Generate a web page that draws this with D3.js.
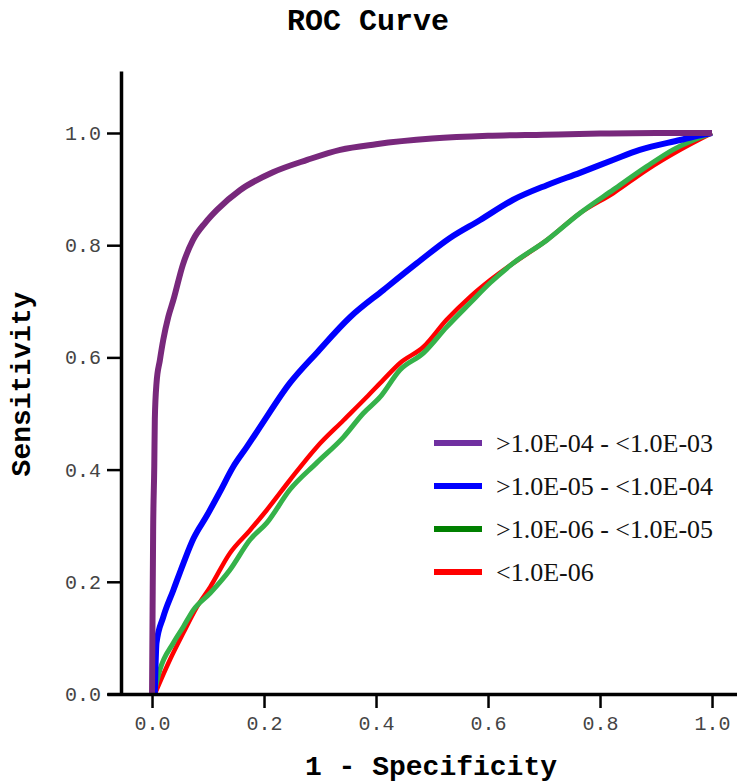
<!DOCTYPE html>
<html>
<head>
<meta charset="utf-8">
<script src="https://cdn.jsdelivr.net/npm/d3@7"></script>
<style>
  body { margin: 0; background: #fff; }
</style>
</head>
<body>
<div id="chart"></div>
<script>
// ROC curves, [1 - specificity, sensitivity]
var rocPurple = [[0,0],[0.001,0.15],[0.002,0.29],[0.004,0.405],[0.005,0.49],[0.008,0.554],
    [0.014,0.595],[0.02,0.631],[0.029,0.672],[0.038,0.702],[0.055,0.765],[0.073,0.809],
    [0.095,0.84],[0.116,0.863],[0.157,0.898],[0.216,0.93],[0.277,0.952],[0.336,0.97],
    [0.4,0.98],[0.5,0.99],[0.6,0.995],[0.7,0.997],[0.8,0.999],[0.9,1.0],[1.0,1.0]];
var rocBlue = [[0.005,0],[0.008,0.091],[0.02,0.137],[0.038,0.185],[0.056,0.233],[0.074,0.277],
    [0.098,0.318],[0.121,0.36],[0.145,0.405],[0.169,0.44],[0.193,0.476],[0.246,0.554],
    [0.294,0.608],[0.354,0.672],[0.413,0.72],[0.473,0.768],[0.532,0.813],[0.586,0.845],
    [0.645,0.881],[0.705,0.907],[0.764,0.929],[0.823,0.952],[0.871,0.97],[0.943,0.9875],
    [0.979,0.996],[1.0,1.0]];
var rocGreen = [[0.005,0.007],[0.014,0.043],[0.038,0.091],[0.056,0.12],[0.074,0.15],
    [0.104,0.18],[0.139,0.221],[0.175,0.275],[0.205,0.305],[0.246,0.364],[0.294,0.412],
    [0.342,0.458],[0.377,0.5],[0.407,0.529],[0.443,0.578],[0.485,0.608],[0.526,0.654],
    [0.568,0.697],[0.604,0.733],[0.645,0.768],[0.705,0.809],[0.764,0.857],[0.824,0.899],
    [0.883,0.94],[0.93,0.97],[1.0,1.0]];
var rocRed = [[0.005,0],[0.032,0.061],[0.056,0.109],[0.08,0.155],[0.104,0.191],[0.139,0.251],
    [0.175,0.292],[0.205,0.328],[0.246,0.381],[0.294,0.44],[0.342,0.488],[0.383,0.529],
    [0.413,0.56],[0.443,0.59],[0.485,0.619],[0.526,0.667],[0.568,0.708],[0.604,0.738],
    [0.645,0.768],[0.705,0.809],[0.764,0.857],[0.824,0.893],[0.883,0.934],[0.943,0.97],
    [1.0,1.0]];

var seriesNames = [">1.0E-04 - <1.0E-03", ">1.0E-05 - <1.0E-04", ">1.0E-06 - <1.0E-05", "<1.0E-06"];
var tickValues = [0, 0.2, 0.4, 0.6, 0.8, 1.0];

var width = 737, height = 784;
var monoFont = "'Courier New', 'Liberation Mono', monospace";
var serifFont = "'Times New Roman', 'Liberation Serif', serif";

var svg = d3.select("#chart").append("svg")
    .attr("width", width)
    .attr("height", height);

// scales: 0..1 maps to 152..712 horizontally, 694..133 vertically
var xScale = d3.scaleLinear().domain([-0.0804, 1.0446]).range([107, 737]);
var yScale = d3.scaleLinear().domain([0, 1.1105]).range([694, 71]);

//////////////////////////////////////////////////////////////// curves
var line = d3.line()
    .curve(d3.curveMonotoneX)
    .x(function(d) { return xScale(d[0]); })
    .y(function(d) { return yScale(d[1]); });

var curves = [
    { data: rocRed,    color: "#ff0000", w: 4.5 },
    { data: rocGreen,  color: "#35b24a", w: 5 },
    { data: rocBlue,   color: "#0000ff", w: 6 },
    { data: rocPurple, color: "#78287c", w: 6 }
];

svg.append("g").selectAll("path")
    .data(curves).enter().append("path")
    .attr("d", function(d) { return line(d.data); })
    .attr("fill", "none")
    .attr("stroke", function(d) { return d.color; })
    .attr("stroke-width", function(d) { return d.w; })
    .attr("stroke-linejoin", "round");

//////////////////////////////////////////////////////////////// axes
var xAxis = d3.axisBottom(xScale).tickValues(tickValues).tickSize(14).tickSizeOuter(0)
    .tickPadding(8).tickFormat(d3.format(".1f"));
var yAxis = d3.axisLeft(yScale).tickValues(tickValues).tickSize(14).tickSizeOuter(0)
    .tickPadding(6).tickFormat(d3.format(".1f"));

var gx = svg.append("g")
    .attr("transform", "translate(0," + yScale(0) + ")")
    .call(xAxis);
var gy = svg.append("g")
    .attr("transform", "translate(" + xScale(-0.0554) + ",0)")
    .call(yAxis);

[gx, gy].forEach(function(g) {
    g.select(".domain").attr("stroke", "#000").attr("stroke-width", 3.5);
    g.selectAll(".tick line").attr("stroke", "#000").attr("stroke-width", 2.5);
    g.selectAll(".tick text")
        .style("font-family", monoFont)
        .style("font-size", "20px")
        .attr("fill", "#444");
});

//////////////////////////////////////////////////////////////// titles
svg.append("text")
    .attr("x", 368).attr("y", 30)
    .attr("text-anchor", "middle")
    .style("font-family", monoFont)
    .style("font-size", "30px").style("font-weight", "bold")
    .text("ROC Curve");

svg.append("text")
    .attr("x", 431).attr("y", 775)
    .attr("text-anchor", "middle")
    .style("font-family", monoFont)
    .style("font-size", "28px").style("font-weight", "bold")
    .text("1 - Specificity");

svg.append("text")
    .attr("transform", "translate(30,384) rotate(-90)")
    .attr("text-anchor", "middle")
    .style("font-family", monoFont)
    .style("font-size", "28px").style("font-weight", "bold")
    .text("Sensitivity");

//////////////////////////////////////////////////////////////// legend
var legendColors = ["#7030a0", "#0000ff", "#008000", "#ff0000"];
var legendY = d3.scalePoint().domain(seriesNames).range([443, 572]);

var legend = svg.append("g").selectAll("g")
    .data(seriesNames).enter().append("g")
    .attr("transform", function(d) { return "translate(0," + legendY(d) + ")"; });

legend.append("line")
    .attr("x1", 434).attr("x2", 482)
    .attr("stroke", function(d, i) { return legendColors[i]; })
    .attr("stroke-width", 6);

legend.append("text")
    .attr("x", 496).attr("y", 0).attr("dy", "0.33em")
    .style("font-family", serifFont)
    .style("font-size", "26px")
    .attr("fill", "#111")
    .text(function(d) { return d; });
</script>
</body>
</html>
